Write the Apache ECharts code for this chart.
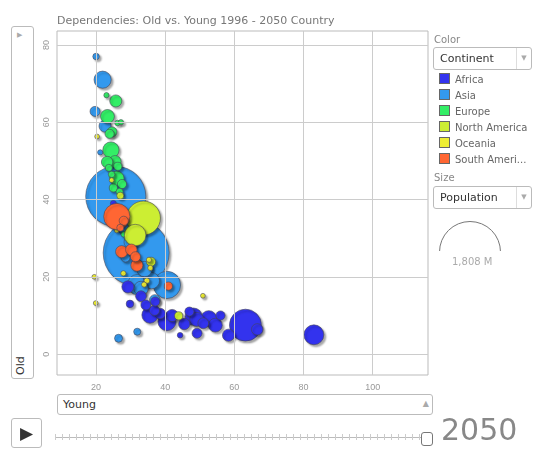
<!DOCTYPE html>
<html><head><meta charset="utf-8">
<script src="https://cdn.jsdelivr.net/npm/echarts@6/dist/echarts.min.js"></script>
<style>
body{margin:0;width:543px;height:459px;position:relative;font-family:"DejaVu Sans",Arial,sans-serif;background:#fff;overflow:hidden}
#c{position:absolute;left:0;top:0;width:543px;height:459px}
.t{position:absolute;color:#888;font-size:10px}
.box{position:absolute;border:1px solid #bbb;border-radius:3px;background:#fff;font-size:11px;color:#333}
.lg{position:absolute;left:439px;font-size:10px;color:#666}
.lg span{display:inline-block;width:9px;height:9px;border:1px solid #666;margin-right:5px;vertical-align:-1px}
</style></head><body>
<div id="c"></div>
<div class="t" style="left:57px;top:14px;font-size:11px;color:#777">Dependencies: Old vs. Young 1996 - 2050 Country</div>
<div class="box" style="left:11px;top:26px;width:21px;height:351px"><div style="position:absolute;left:5px;top:4px;color:#aaa;font-size:7px">&#9654;</div><div style="position:absolute;left:2px;bottom:2px;transform:rotate(-90deg);transform-origin:left top;top:348px;font-size:11px">Old</div></div>
<div class="box" style="left:57px;top:394px;width:374px;height:19px"><div style="position:absolute;left:5px;top:3px">Young</div><div style="position:absolute;right:3px;top:4px;color:#aaa;font-size:8px">&#9650;</div></div>
<div class="box" style="left:11px;top:418px;width:29px;height:28px"><div style="position:absolute;left:8px;top:4px;font-size:17px;color:#333">&#9654;</div></div>
<div style="position:absolute;left:55px;top:437px;width:375px;height:1px;background:#bbb"></div>
<div style="position:absolute;left:55px;top:434px;width:375px;height:6px;background:repeating-linear-gradient(90deg,#ccc 0 1px,transparent 1px 7px)"></div>
<div class="box" style="left:421px;top:432px;width:10px;height:12px;border-color:#777"></div>
<div style="position:absolute;left:441px;top:412px;font-size:30px;color:#888">2050</div>
<div class="t" style="left:434px;top:34px">Color</div>
<div class="box" style="left:433px;top:47px;width:97px;height:21px"><div style="position:absolute;left:6px;top:4px">Continent</div><div style="position:absolute;right:0;top:0;width:14px;height:21px;border-left:1px solid #ddd;color:#aaa;font-size:7px;text-align:center;line-height:21px">&#9660;</div></div>
<div id="lgs"></div>
<div class="t" style="left:434px;top:172px">Size</div>
<div class="box" style="left:433px;top:186px;width:97px;height:21px"><div style="position:absolute;left:6px;top:4px">Population</div><div style="position:absolute;right:0;top:0;width:14px;height:21px;border-left:1px solid #ddd;color:#aaa;font-size:7px;text-align:center;line-height:21px">&#9660;</div></div>
<div style="position:absolute;left:439px;top:221px;width:60px;height:60px;border:1px solid #777;border-radius:50%;clip-path:inset(0 0 32px 0)"></div>
<div class="t" style="left:452px;top:256px;color:#aaa">1,808 M</div>
<script>
const continents=["Africa","Asia","Europe","North America","Oceania","South America"];
const legendLabels=["Africa","Asia","Europe","North America","Oceania","South Ameri..."];
const colors=["#3333ee","#3399ee","#33ee66","#ccee33","#eeee33","#ff6633"];
const xTicks=[20,40,60,80,100];
const yTicks=[0,20,40,60,80];
// [young, old, population (M)]
const africa=[[29.2,17.4,40],[29.8,13,12],[34.4,12.7,25],[35.6,10.1,80],[36.9,11.3,25],[37.1,13.6,20],[40.5,8.4,100],[45.5,7.8,35],[44.3,4.9,5],[48.2,9.7,90],[49.1,9,55],[52.6,9.2,75],[49.2,5.4,25],[54.5,7.5,55],[58.3,4.9,40],[63.2,7.5,350],[66.6,6.4,35],[83,5,125],[31.5,23.5,15],[25,39,6],[33,15,30],[42,10,40],[47,11,20],[51,8,30],[56,10,20],[38.5,10.5,30]];
const asia=[[20,77,8],[21.9,71,90],[19.7,62.8,25],[22.6,59,40],[21.2,52.2,4],[25.7,40.8,1320],[31.6,26.2,1600],[40.5,17.9,250],[32,18,130],[31.1,31.7,6],[26.5,4.1,14],[31.9,5.8,10],[28,33,60],[30,29,50],[34,22,70],[36,19,80],[33,17,60],[26,36,8],[28.5,25,20],[37,14,30]];
const europe=[[23,67,4],[25.7,65.5,40],[23.3,61.5,55],[24.6,57.5,25],[23.9,57,20],[27.2,60,4],[26.2,59.8,5],[24.3,52.8,80],[23.2,49.7,35],[25.5,49.8,40],[26.3,48.6,15],[23.7,48.2,10],[26,45.5,60],[27.5,44,20],[25,43,15],[26.8,42,10],[24.5,46.5,8],[27,38,4],[28,31,5],[29,30,4]];
const northAmerica=[[33.7,35.2,400],[31.3,30.8,150],[35.9,23.9,20],[43.9,9.9,15],[27,41,10]];
const oceania=[[20.3,56.3,3],[19.5,20,3],[19.9,13.2,3],[50.9,15.1,3],[35.3,24.4,4],[27.9,20.9,4],[35.7,22.3,4],[34.7,19,5],[33.9,18,4],[27,34,3],[28,36,3],[30,27,3],[24.5,45,3],[26,32,3]];
const southAmerica=[[26,35.6,230],[27.4,26.5,40],[30.2,27,35],[31.8,23,40],[31.4,25.2,25],[40.9,17.6,15],[28,34.5,20],[27,32.7,10]];
const seriesData=[africa,asia,europe,northAmerica,oceania,southAmerica];
const order=[1,0,2,3,4,5];
let lh='';
legendLabels.forEach((l,i)=>{lh+=`<div class="lg" style="top:${73+i*16}px"><span style="background:${colors[i]}"></span>${l}</div>`;});
document.getElementById('lgs').innerHTML=lh;
const chart=echarts.init(document.getElementById('c'));
const grid={type:'scatter',data:[],silent:true,markLine:{silent:true,symbol:'none',label:{show:false},lineStyle:{color:'#ccc',type:'solid',width:1},
 data:[...xTicks.map(v=>({xAxis:v})),...yTicks.map(v=>({yAxis:v}))]}};
chart.setOption({
 animation:false,
 grid:{left:57,right:115,top:31,bottom:84,show:true,borderColor:'#bbb',borderWidth:1},
 xAxis:{type:'value',min:8.7,max:116,splitLine:{show:false},axisLine:{show:false},axisTick:{show:false},
  axisLabel:{customValues:xTicks,color:'#999',fontSize:9}},
 yAxis:{type:'value',min:-5.4,max:83.6,splitLine:{show:false},axisLine:{show:false},axisTick:{show:false},
  axisLabel:{customValues:yTicks,color:'#999',fontSize:9,rotate:90,margin:6}},
 series:[grid,...order.map(i=>({type:'scatter',name:continents[i],
  data:seriesData[i].slice().sort((a,b)=>b[2]-a[2]),
  symbolSize:d=>Math.sqrt(d[2])*1.6+2,
  itemStyle:{color:colors[i],opacity:1,borderColor:'#445',borderWidth:0.6,shadowBlur:2,shadowColor:'rgba(0,0,0,0.35)',shadowOffsetX:2,shadowOffsetY:2}}))]
});
</script></body></html>
